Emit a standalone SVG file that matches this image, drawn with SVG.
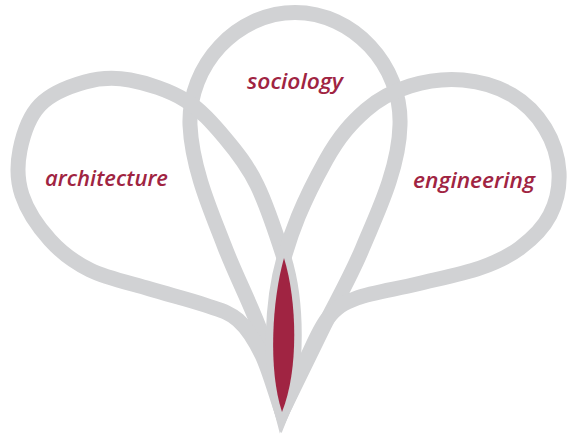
<svg xmlns="http://www.w3.org/2000/svg" width="576" height="437" viewBox="0 0 576 437">
<style>
.petal{fill:none;stroke:#d1d2d4;stroke-width:15;stroke-linejoin:miter;stroke-miterlimit:6}
.lbl{font-family:"Open Sans","Liberation Sans",sans-serif;font-style:italic;font-weight:600;font-size:22px;fill:#a02442}
.core{fill:#a02442;stroke:none}
</style>
<rect width="576" height="437" fill="#ffffff"/>
<g id="sociology">
<path class="petal" d="M282,412 C275.3,386.3 271.7,362.8 262,335 C252.3,307.2 235,274.2 224,245 C213,215.8 192,170 190,125 C188,65 237,12.5 295,12.5 C353,12.5 402,65 400,125 C399,170 375.3,217 363,247 C350.7,277 335.5,302.5 322,330 C308.5,357.5 295.3,384.7 282,412 Z"/>
</g>
<g id="architecture">
<path class="petal" d="M282,412 C275.3,393 269.3,370.3 262,355 C254.7,339.7 247.5,328.3 238,320 C228.5,311.7 219.7,310.2 205,305 C190.3,299.8 169.2,294.8 150,289 C130.8,283.2 106.7,278.2 90,270 C73.3,261.8 61.3,252.5 50,240 C38.7,227.5 27,210 22,195 C17,180 17,165 20,150 C23,135 29.2,116.3 40,105 C50.8,93.7 70,86.2 85,82 C100,77.8 113.3,77 130,80 C146.7,83 169.2,90.3 185,100 C200.8,109.7 213,123.8 225,138 C237,152.2 247.2,165 257,185 C266.8,205 276,233 284,258 C297,300 299,370 282,412 Z"/>
</g>
<g id="engineering">
<path class="petal" d="M282,412 C268,370 272,300 284,258 C291.2,232.8 301,205 326,160 C339.7,135.3 352,122.3 366,110 C380,97.7 393.8,91 410,86 C426.2,81 446,78.5 463,80 C480,81.5 498.3,87 512,95 C525.7,103 537.2,115.2 545,128 C552.8,140.8 558.2,157.5 559,172 C559.8,186.5 556.5,202.3 550,215 C543.5,227.7 531.7,239.2 520,248 C508.3,256.8 497.2,262 480,268 C462.8,274 437.5,279 417,284 C396.5,289 371.8,292.3 357,298 C342.2,303.7 336.7,307.3 328,318 C319.3,328.7 312.7,346.3 305,362 C297.3,377.7 289.7,395.3 282,412 Z"/>
</g>
<g id="connectors">
<path id="overlap" class="core" d="M284,258 C297,300 299,370 282,412 C268,370 272,300 284,258 Z"/>
</g>
<g id="labels">
<text class="lbl" x="45" y="186" textLength="123" lengthAdjust="spacingAndGlyphs">architecture</text>
<text class="lbl" x="247" y="89" textLength="96" lengthAdjust="spacingAndGlyphs">sociology</text>
<text class="lbl" x="413" y="188" textLength="122" lengthAdjust="spacingAndGlyphs">engineering</text>
</g>
</svg>
